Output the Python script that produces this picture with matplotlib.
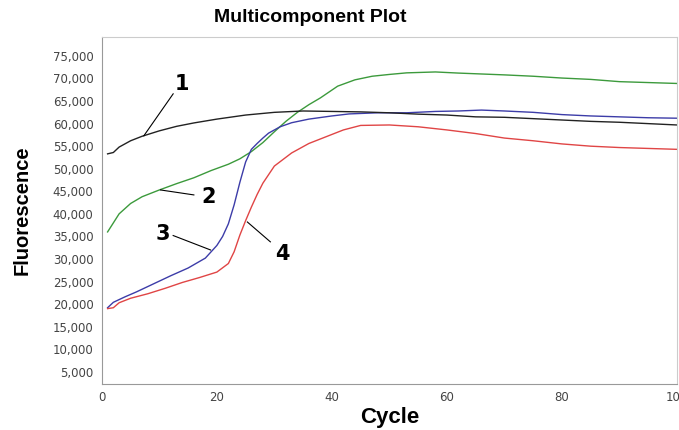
import numpy as np
import matplotlib
matplotlib.use('Agg')
import matplotlib.pyplot as plt

plt.rcParams['font.family'] = ['Liberation Sans', 'DejaVu Sans']

# readings (cycle, fluorescence)
c1 = [1, 2, 3, 5, 7, 10, 13, 16, 20, 25, 30, 35, 40, 45, 50, 55, 60, 65, 70, 75, 80, 85, 90, 95, 100]
f1 = [53300, 53600, 54800, 56200, 57200, 58400, 59400, 60150, 61000, 61900, 62500, 62800, 62700, 62600, 62400, 62100, 61900, 61500, 61400, 61100, 60800, 60500, 60300, 60000, 59700]

c2 = [1, 2, 3, 5, 7, 10, 13, 16, 19, 22, 24, 26, 28, 30, 32, 34, 36, 38, 41, 44, 47, 50, 53, 58, 62, 66, 70, 75, 80, 85, 90, 95, 100]
f2 = [36000, 38000, 40000, 42300, 43800, 45300, 46700, 48000, 49600, 51000, 52200, 53800, 55800, 58200, 60500, 62500, 64200, 65700, 68300, 69700, 70500, 70900, 71250, 71450, 71200, 71000, 70800, 70500, 70100, 69800, 69300, 69100, 68900]

c3 = [1, 2, 4, 6, 9, 12, 15, 18, 20, 21, 22, 23, 24, 25, 26, 27, 28, 29, 31, 33, 36, 40, 43, 48, 53, 58, 62, 66, 70, 75, 80, 85, 90, 95, 100]
f3 = [19200, 20400, 21600, 22700, 24500, 26300, 28000, 30200, 33000, 35000, 37800, 42000, 47000, 51500, 54300, 55600, 56800, 57900, 59300, 60200, 61000, 61700, 62150, 62400, 62400, 62700, 62800, 63000, 62800, 62500, 62000, 61700, 61500, 61300, 61200]

c4 = [1, 2, 3, 5, 8, 11, 14, 17, 20, 22, 23, 24, 25, 26, 27, 28, 30, 33, 36, 39, 42, 45, 50, 55, 60, 65, 70, 75, 80, 85, 90, 95, 100]
f4 = [19000, 19200, 20300, 21300, 22300, 23500, 24800, 25900, 27100, 29000, 31600, 35300, 38500, 41500, 44300, 46800, 50600, 53500, 55600, 57100, 58600, 59600, 59700, 59300, 58600, 57800, 56800, 56200, 55500, 55000, 54700, 54500, 54300]

# label: text position, point on curve
labels = ['1', '2', '3', '4']
text_pos = [(14.0, 68800), (18.6, 43800), (10.6, 35600), (31.4, 31100)]
line_from = [(12.4, 66600), (16.0, 44200), (12.4, 35200), (29.3, 33800)]
line_to = [(7.3, 57300), (10.2, 45300), (18.9, 32000), (25.3, 38200)]

fig = plt.figure(figsize=(6.79, 4.30), dpi=100)
ax = fig.add_axes([0.150, 0.107, 0.847, 0.807])

ax.plot(c2, f2, color='#3c9a3c', lw=1.0)
ax.plot(c3, f3, color='#3c3ca8', lw=1.0)
ax.plot(c4, f4, color='#e04545', lw=1.0)
ax.plot(c1, f1, color='#222222', lw=1.0)

for lab, tp, lf, lt in zip(labels, text_pos, line_from, line_to):
    ax.plot([lf[0], lt[0]], [lf[1], lt[1]], color='black', lw=0.8)
    ax.text(tp[0], tp[1], lab, fontsize=15, fontweight='bold',
            family='DejaVu Sans', ha='center', va='center')

ax.set_xlim(0, 100)
ax.set_ylim(2300, 79200)
ax.set_xticks([0, 20, 40, 60, 80, 100])
ax.set_yticks(np.arange(5000, 80000, 5000))
ax.yaxis.set_major_formatter(matplotlib.ticker.FuncFormatter(lambda v, p: f'{int(v):,}'))
ax.tick_params(length=0, labelsize=8.5, colors='#444444', pad=6)
ax.tick_params(axis='x', pad=5)
for t in ax.get_xticklabels() + ax.get_yticklabels():
    t.set_family('DejaVu Sans')

for s in ['left', 'bottom']:
    ax.spines[s].set_color('#999999')
for s in ['top', 'right']:
    ax.spines[s].set_color('#cccccc')

fig.text(310 / 679, 1 - 18 / 430, 'Multicomponent Plot', fontsize=14,
         fontweight='bold', ha='center', va='center')
fig.text(22 / 679, 1 - 210 / 430, 'Fluorescence', fontsize=14.5,
         fontweight='bold', ha='center', va='center', rotation=90)
fig.text(390 / 679, 1 - 418 / 430, 'Cycle', fontsize=16,
         fontweight='bold', ha='center', va='center')

fig.savefig('out.png', dpi=100)
